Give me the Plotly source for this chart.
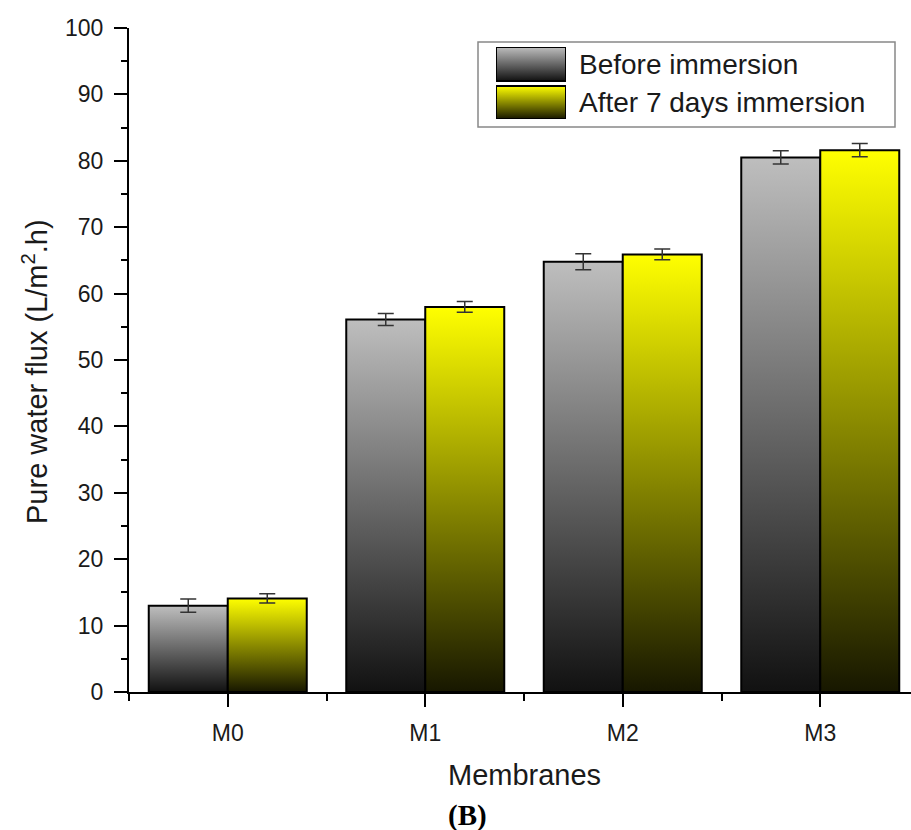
import plotly.graph_objects as go

# Pure water flux (L/m2.h) per membrane, before and after 7 days immersion
membranes = ["M0", "M1", "M2", "M3"]
before_flux = [13.0, 56.1, 64.8, 80.5]
before_err = [1.0, 0.9, 1.2, 1.0]
after_flux = [14.1, 58.0, 65.9, 81.6]
after_err = [0.7, 0.8, 0.8, 1.0]
series_names = ["Before immersion", "After 7 days immersion"]

GRAY_SCALE = [[0.0, "#111111"], [1.0, "#bebebe"]]
YELLOW_SCALE = [[0.0, "#171700"], [1.0, "#ffff00"]]
BAR_W = 0.4

# plot area geometry (pixels)
W, H = 911, 830
L, R, T, B = 129, 0, 28, 138
PW, PH = W - L - R, H - T - B


def px_x(p):
    return (p - L) / PW


def px_y(p):
    return (H - B - p) / PH


fig = go.Figure()

series = [
    (before_flux, before_err, GRAY_SCALE),
    (after_flux, after_err, YELLOW_SCALE),
]

for si, (vals, errs, scale) in enumerate(series):
    centers = []
    for ci, v in enumerate(vals):
        x0 = ci - BAR_W + si * BAR_W
        x1 = x0 + BAR_W
        centers.append((x0 + x1) / 2)
        fig.add_trace(go.Scatter(
            x=[x0, x0, x1, x1, x0],
            y=[0, v, v, 0, 0],
            mode="lines",
            fill="toself",
            fillgradient=dict(type="vertical", colorscale=scale, start=0, stop=v),
            line=dict(color="#000000", width=2),
            showlegend=False,
            hoverinfo="skip",
        ))
    fig.add_trace(go.Scatter(
        x=centers,
        y=vals,
        mode="markers",
        marker=dict(size=1, opacity=0),
        error_y=dict(type="data", array=errs, visible=True,
                     color="#333333", thickness=1.5, width=8),
        showlegend=False,
        hoverinfo="skip",
    ))

# legend swatches on an overlay axis pair
sw_rows = [(0.528, 1.0, GRAY_SCALE), (0.0, 0.458, YELLOW_SCALE)]
for y0, y1, scale in sw_rows:
    fig.add_trace(go.Scatter(
        x=[0, 0, 1, 1, 0],
        y=[y0, y1, y1, y0, y0],
        xaxis="x2", yaxis="y2",
        mode="lines",
        fill="toself",
        fillgradient=dict(type="vertical", colorscale=scale, start=y0, stop=y1),
        line=dict(color="#000000", width=2),
        showlegend=False,
        hoverinfo="skip",
    ))

fig.add_shape(type="rect", xref="paper", yref="paper",
              x0=px_x(478), x1=px_x(895), y0=px_y(127), y1=px_y(42),
              line=dict(color="#888888", width=1.5), fillcolor="white",
              layer="below")

for txt, py in zip(series_names, [64, 103]):
    fig.add_annotation(text=txt, xref="paper", yref="paper",
                       x=px_x(577), y=px_y(py), xanchor="left", yanchor="middle",
                       showarrow=False,
                       font=dict(family="Liberation Sans, Arial", size=28, color="#1a1a1a"))

# axis titles and panel label
fig.add_annotation(text="Membranes", xref="paper", yref="paper",
                   x=px_x(524), y=px_y(775), xanchor="center", yanchor="middle",
                   showarrow=False,
                   font=dict(family="Liberation Sans, Arial", size=29, color="#1a1a1a"))
fig.add_annotation(text="Pure water flux (L/m<sup>2</sup>.h)", xref="paper", yref="paper",
                   x=px_x(35), y=px_y(372), xanchor="center", yanchor="middle",
                   textangle=-90, showarrow=False,
                   font=dict(family="Liberation Sans, Arial", size=29, color="#1a1a1a"))
fig.add_annotation(text="<b>(B)</b>", xref="paper", yref="paper",
                   x=px_x(467), y=px_y(815), xanchor="center", yanchor="middle",
                   showarrow=False,
                   font=dict(family="Liberation Serif, Times New Roman", size=29, color="#000000"))

tick_font = dict(family="Liberation Sans, Arial", size=23, color="#1a1a1a")

fig.update_layout(
    width=W, height=H,
    margin=dict(l=L, r=R, t=T, b=B, pad=0),
    paper_bgcolor="white",
    plot_bgcolor="white",
    showlegend=False,
    xaxis=dict(
        range=[-0.5, -0.5 + PW / 197.5],
        tickvals=list(range(len(membranes))),
        ticktext=membranes,
        ticks="outside", ticklen=13, tickwidth=2, tickcolor="#000000",
        minor=dict(tickvals=[-0.5, 0.5, 1.5, 2.5], ticks="outside",
                   ticklen=7, tickwidth=2, tickcolor="#000000"),
        showline=True, linewidth=2, linecolor="#000000",
        showgrid=False, zeroline=False,
        tickfont=tick_font,
        ticklabelstandoff=6,
    ),
    yaxis=dict(
        range=[0, 100],
        tickvals=list(range(0, 101, 10)),
        ticks="outside", ticklen=13, tickwidth=2, tickcolor="#000000",
        minor=dict(dtick=5, ticks="outside", ticklen=6, tickwidth=2,
                   tickcolor="#000000"),
        showline=True, linewidth=2, linecolor="#000000",
        showgrid=False, zeroline=False,
        tickfont=tick_font,
        ticklabelstandoff=6,
    ),
    xaxis2=dict(domain=[px_x(496), px_x(566)], range=[0, 1], anchor="y2",
                visible=False, fixedrange=True),
    yaxis2=dict(domain=[px_y(119), px_y(47)], range=[0, 1], anchor="x2",
                visible=False, fixedrange=True),
)

fig.write_html("out.html")
